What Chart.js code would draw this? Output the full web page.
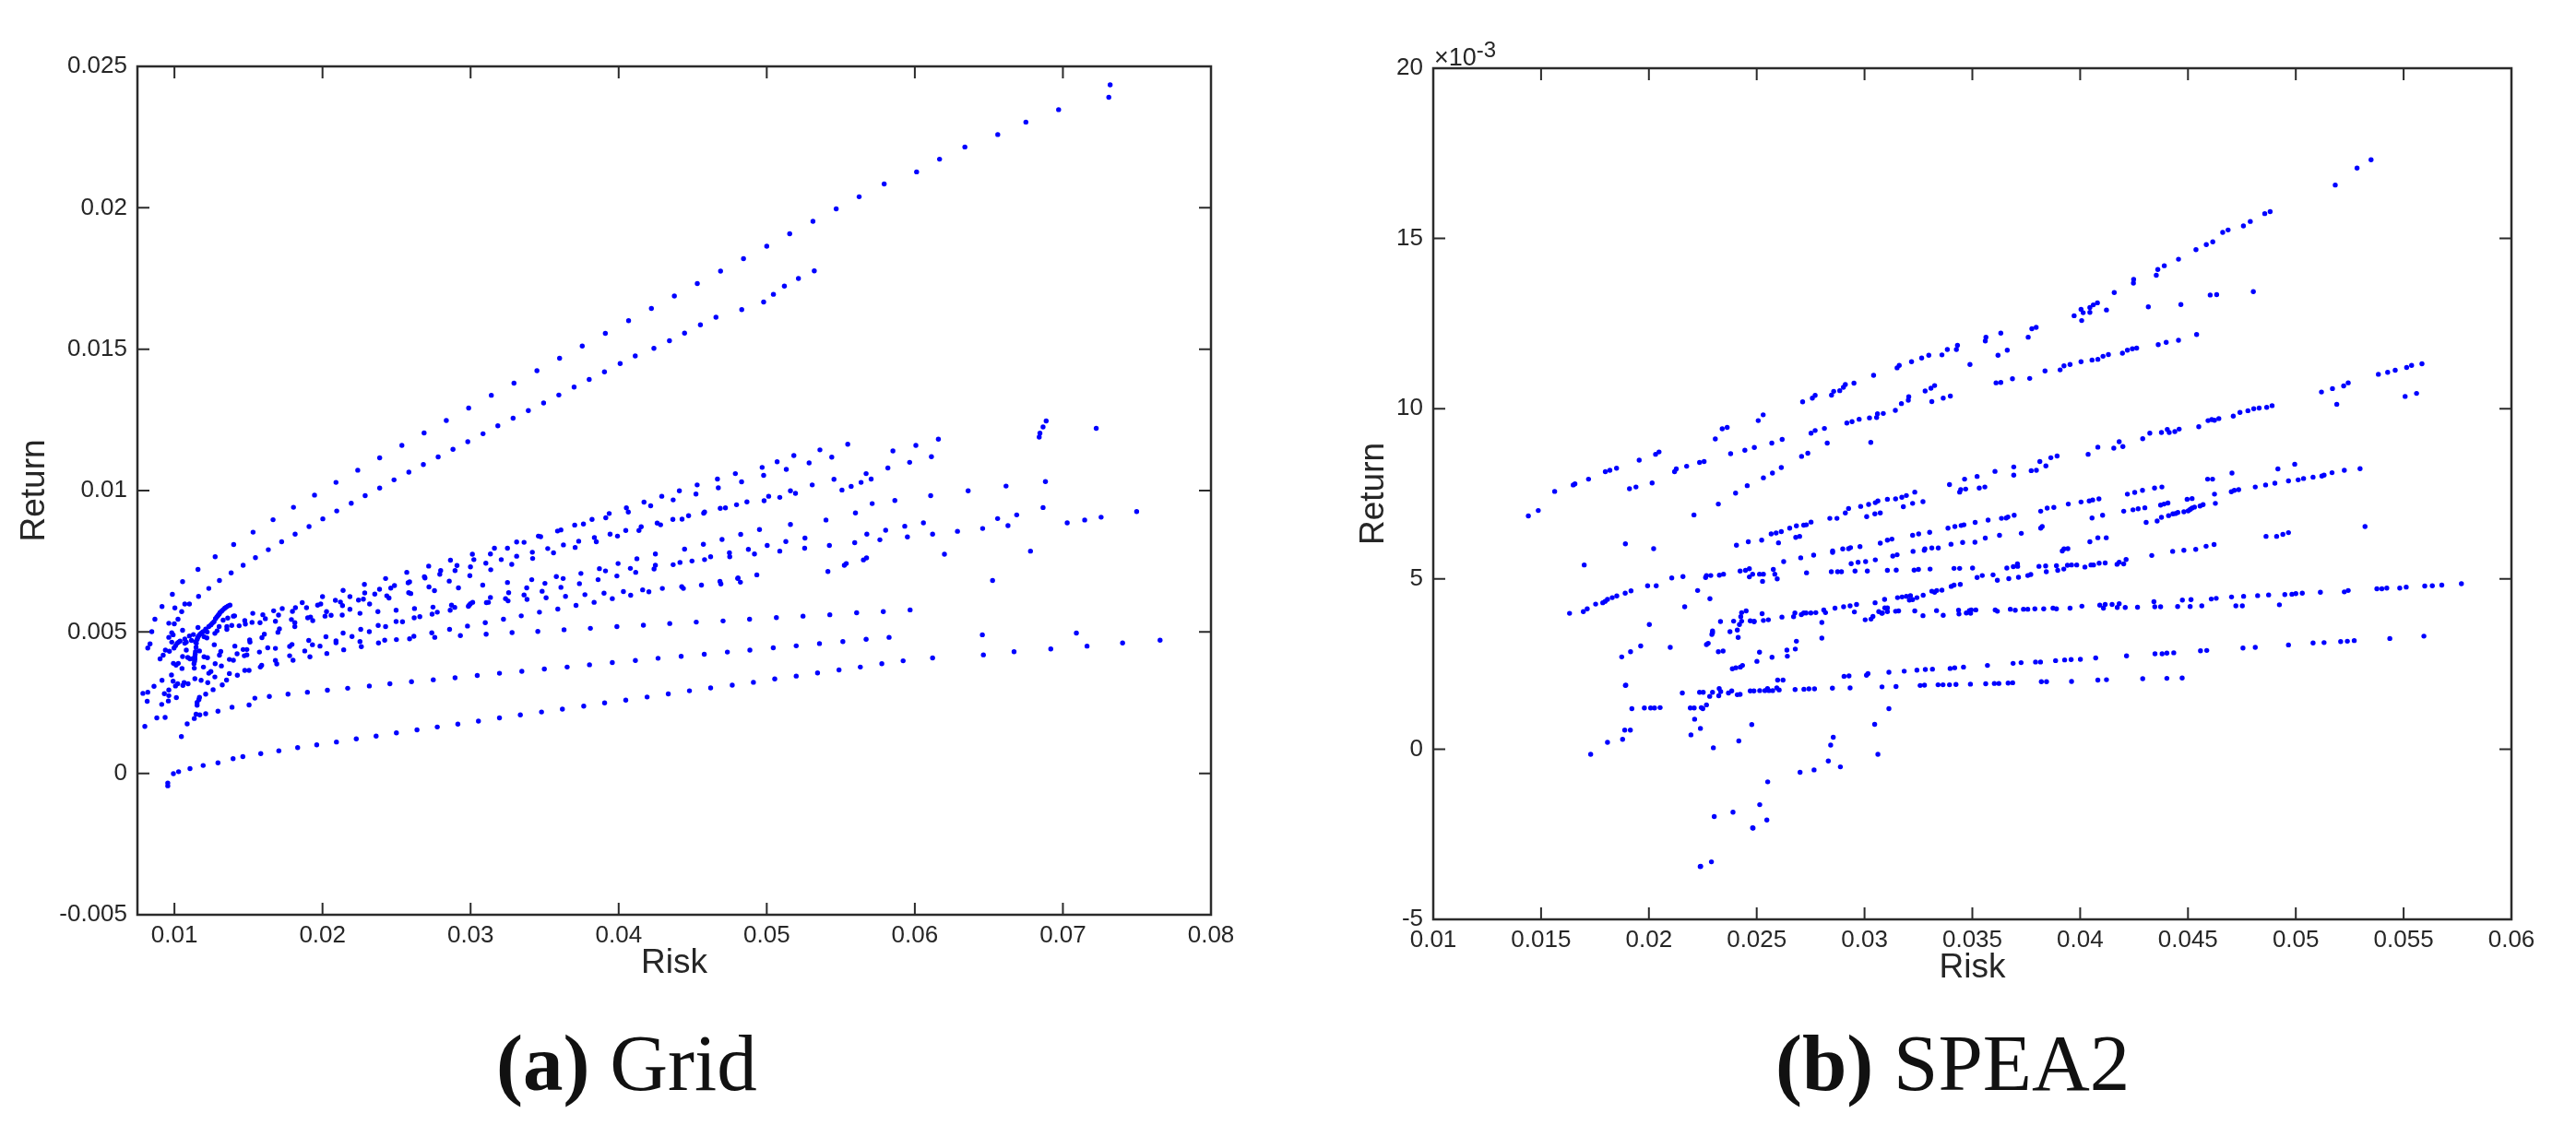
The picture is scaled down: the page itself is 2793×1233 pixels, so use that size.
<!DOCTYPE html>
<html>
<head>
<meta charset="utf-8">
<title>Grid and SPEA2</title>
<script src="https://cdn.jsdelivr.net/npm/chart.js@4"></script>
<style>
  html, body { margin: 0; background: #fff; }
  body { width: 2793px; height: 1233px; position: relative; overflow: hidden; }
  canvas { position: absolute; top: 0; }
  #gridChart { left: 0; }
  #speaChart { left: 1400px; }
  .caption { position: absolute; top: 1098px; font-family: "Liberation Serif", serif; font-size: 87px; line-height: 110px; color: #111; white-space: nowrap; }
  #exponent { position: absolute; left: 1555px; top: 45px; font-family: "Liberation Sans", sans-serif; font-size: 27px; line-height: 34px; color: #262626; white-space: nowrap; }
  #exponent sup { font-size: 24px; line-height: 0; vertical-align: 9px; }
</style>
</head>
<body>
<canvas id="gridChart" width="1396" height="1100"></canvas>
<canvas id="speaChart" width="1393" height="1100"></canvas>
<div id="exponent">×10<sup>-3</sup></div>
<div class="caption" style="left:538px"><b>(a)</b> Grid</div>
<div class="caption" style="left:1925px"><b>(b)</b> SPEA2</div>
<script>
// values are [risk, return], both stored in units of 1e-5

// --- (a) Grid ---
const gridLineA = [[820,443],[835,458],[847,501],[868,545],[916,590],[986,633],[1055,678],[1159,721],[1275,766],[1400,809],[1531,853],[1666,897],[1804,941],[1946,984],[2091,1029],[2238,1072],[2386,1116],[2536,1160],[2686,1204],[2836,1248],[2987,1292],[3140,1337],[3293,1380],[3448,1424],[3601,1468],[3754,1511],[3910,1556],[4067,1601],[4221,1644],[4376,1688],[4531,1732],[4688,1776],[4843,1820],[5000,1864],[5155,1908],[5312,1952],[5469,1996],[5624,2039],[5793,2084],[6012,2127],[6167,2172],[6338,2215],[6560,2259],[6750,2303],[6971,2347],[7310,2391],[7319,2435]];
const gridLineB = [[1163,626],[1232,654],[1304,682],[1383,709],[1464,736],[1547,763],[1634,791],[1724,819],[1815,846],[1909,873],[2002,900],[2096,928],[2194,955],[2288,982],[2386,1009],[2483,1038],[2583,1065],[2681,1092],[2781,1119],[2881,1146],[2981,1173],[3084,1201],[3184,1229],[3287,1256],[3390,1283],[3493,1310],[3596,1338],[3699,1366],[3801,1393],[3904,1420],[4010,1449],[4112,1476],[4238,1503],[4343,1530],[4445,1557],[4552,1586],[4657,1613],[4831,1640],[4979,1667],[5045,1694],[5119,1723],[5214,1750],[5321,1777]];
const gridLineC = [[1047,130],[1086,175],[1134,194],[1146,209],[1171,207],[1211,211],[1294,220],[1389,234],[1504,242],[1543,266],[1641,272],[1767,280],[1898,287],[2033,294],[2170,301],[2316,309],[2455,317],[2601,324],[2748,331],[2895,338],[3045,346],[3195,354],[3346,361],[3498,369],[3652,376],[3803,384],[3957,392],[4113,399],[4266,407],[4422,414],[4578,421],[4734,429],[4886,436],[5044,444],[5199,451],[5356,459],[5514,466],[5671,474],[5826,481]];
const gridLineD = [[955,-34],[955,-44],[993,-1],[1028,6],[1105,17],[1194,28],[1294,37],[1396,52],[1462,59],[1583,70],[1705,80],[1832,91],[1961,101],[2094,111],[2228,122],[2362,132],[2499,143],[2638,154],[2775,164],[2914,174],[3053,185],[3195,196],[3336,207],[3479,217],[3620,227],[3764,238],[3905,249],[4048,259],[4192,270],[4335,281],[4478,292],[4621,302],[4767,312],[4910,322],[5054,334],[5199,344],[5343,355],[5488,366],[5632,376],[5777,388],[5921,398],[6120,408],[6463,419],[6670,430],[6918,440],[7163,450],[7403,461],[7656,471],[6456,490],[7091,496]];
const gridLineE = [[5968,578],[5787,572],[5607,568],[5426,561],[5245,556],[5065,551],[4884,545],[6525,682]];
const gridStreaks = [[1375,595],[1350,588],[1329,579],[1308,569],[1294,558],[1277,547],[1267,536],[1246,525],[1232,519],[1211,510],[1184,497],[1163,486],[1153,473],[1146,446],[1142,430],[1138,413],[1136,397],[1132,388],[1362,592],[1340,584],[1319,574],[1302,563],[1286,553],[1256,531],[1194,501],[1173,492],[1157,480],[1148,460],[1140,421],[1138,405],[966,432],[997,443],[1007,451],[1018,460],[1028,464],[1038,468],[1070,460],[1080,464],[1070,475],[1101,486],[1128,491],[1115,470],[1142,465],[1360,549],[1329,542],[1302,519],[1288,504],[1273,495],[1354,519],[1354,509],[1387,523],[1437,522],[1221,500],[1169,433],[1126,406]];
const gridLeft = [[1055,506],[1024,545],[1049,572],[1101,599],[1070,599],[1003,585],[962,531],[999,529],[982,497],[991,490],[962,481],[982,464],[939,436],[924,418],[903,405],[1080,436],[1055,413],[1090,410],[1105,405],[1134,372],[1051,371],[1026,389],[993,389],[1011,383],[980,348],[916,329],[991,326],[1007,309],[1022,317],[962,295],[862,308],[820,287],[787,283],[932,282],[962,275],[816,255],[914,244],[959,256],[1013,268],[937,198],[881,196],[800,166],[1169,269],[1165,261],[1153,251],[1153,241]];
const gridLowerMid = [[1682,399],[1691,387],[1371,403],[1398,400],[1317,380],[1275,388],[1223,409],[1200,412],[1589,382],[1580,376],[1504,364],[1475,364],[1425,347],[1371,353],[1352,330],[1323,313],[1273,341],[1246,360],[1232,354],[1225,321],[1261,296],[1211,280],[1196,376],[1138,335],[1180,329],[1092,317],[1065,321],[1057,311]];
const gridMidLeft = [[2258,509],[2139,496],[2199,484],[2253,466],[2262,448],[2091,469],[2091,462],[2023,483],[2143,437],[2029,424],[1983,450],[1932,455],[1907,470],[1880,433],[1915,412],[1778,416],[1801,400],[1778,449],[1794,456],[1709,511],[1699,499],[1607,492],[1591,480],[1682,442],[1630,444],[1574,429],[1508,472],[1510,464],[1489,438],[1464,438],[1489,419],[1472,416],[1423,423],[1408,450],[1313,431],[1304,418],[1269,455],[1219,479],[1200,483],[1159,516]];
const gridUpperLeft = [[2283,668],[2285,638],[2139,647],[2185,625],[2087,612],[2121,606],[2135,593],[2000,625],[1988,599],[1967,595],[1863,604],[1892,586],[1817,586],[1797,573],[1728,583],[1670,575],[1703,560],[1614,547],[1597,561],[1529,566],[1406,557],[1398,556],[1475,540],[1479,528],[1524,534],[1578,533],[1682,538],[1790,544],[1813,533],[1813,519],[1900,550],[1919,553],[1934,540],[2017,556],[2027,572],[2058,559],[2133,560],[2185,580],[2253,566],[2276,616],[2243,613]];
const gridUpperBand = [[4667,1041],[4530,1020],[4673,1010],[4522,988],[4410,999],[4291,980],[4368,967],[4171,959],[4216,946],[4052,939],[4065,924],[3936,919],[3913,904],[3820,898],[3762,882],[3703,878],[3610,861],[3587,857],[3473,837],[3458,839],[3361,817],[3311,818],[3249,796],[3161,796],[3134,776],[3012,775],[3022,756],[2864,754],[2717,733],[2908,735],[2999,730],[2895,717],[2798,717],[2792,704],[2995,699],[3103,743],[3136,720],[3207,756],[3278,739],[3311,768],[3417,782],[3419,760],[3521,795],[3560,780],[3627,808],[3706,799],[3730,821],[3836,834],[3849,819],[3942,846],[3992,839],[4048,859],[4137,859],[4152,872],[4260,885],[4283,879],[4366,898],[4428,899],[4472,911],[4574,920],[4580,924],[4686,937],[4721,939],[4796,950],[4788,1060],[2569,711],[2688,695],[2692,691],[2578,674],[2588,677],[2426,689],[2486,664],[2461,655],[2385,651],[2353,634],[2434,628],[2449,620],[2318,599],[2582,639],[2596,636],[2719,659],[2756,646],[2856,680],[2918,656],[3082,666]];
const gridMidBand = [[4698,827],[4572,810],[4445,793],[4248,776],[4123,759],[3996,742],[3870,724],[3911,716],[4079,725],[4115,711],[4248,736],[4239,723],[4748,780],[4750,766],[4621,766],[4580,756],[4495,751],[4414,746],[4368,738],[3988,698],[3861,685],[3745,707],[3735,671],[3625,689],[3579,696],[3502,672],[3413,685],[3249,675],[3379,656],[3610,658],[3257,639],[3361,631],[3483,644],[3641,626],[3510,621],[3381,615],[3772,632],[3901,637],[4032,643],[4162,649],[4204,642],[4081,630],[3957,618],[3834,605],[3712,594],[3589,581],[3465,570],[3342,557],[3222,545],[3099,533],[2979,521],[2858,509],[2738,497],[2758,481],[2617,485],[2588,476],[2499,473],[2420,471],[2378,461],[2931,487],[3105,492],[3280,498],[3454,502],[3631,508],[3809,513],[3988,519],[4167,524],[4345,530],[4524,535],[4705,539],[4804,689],[4684,679],[4690,670],[4559,666],[4426,660],[4437,654],[4295,654],[3134,622],[3236,618],[3253,610],[3120,605],[3107,604],[3014,605],[2999,600],[2991,595],[2985,591],[2871,595],[2893,587],[2862,577],[2746,588],[2775,570],[2740,563],[2657,554],[2619,550],[2621,583],[2497,577],[2374,572],[2497,537],[2540,536],[2376,523],[2426,519],[2316,501]];
const gridRight = [[6887,1246],[6866,1225],[6845,1203],[6840,1189],[7225,1220],[6159,1182],[6007,1160],[5852,1140],[6112,1120],[5965,1100],[5547,1164],[5359,1144],[5183,1124],[5070,1102],[4969,1082],[5439,1118],[5286,1098],[5132,1075],[4979,1054],[4830,1031],[5818,1080],[5671,1060],[5705,1041],[5637,1029],[5570,1015],[5508,1002],[5454,1040],[5307,1020],[5160,999],[5194,990],[5013,980],[5088,976],[4982,964],[4866,960],[6882,1032],[6616,1016],[6360,999],[6107,982],[5865,965],[5712,954],[5599,921],[5400,896],[5160,880],[4951,862],[4824,845],[5258,832],[5129,820],[5003,806],[4876,792],[5256,796],[5088,786],[4917,776],[5423,806],[5594,816],[5676,846],[5803,860],[5764,826],[5932,874],[6058,886],[5950,836],[6120,846],[6288,856],[6458,866],[6559,901],[6629,876],[6688,914],[6866,940],[7029,886],[7147,896],[7258,906],[7498,926],[6200,775],[6781,786],[5674,762],[5653,755],[5537,742],[5524,736],[5413,714],[4933,702],[4822,676],[4806,691]];

const gridXTicks = [0.01, 0.02, 0.03, 0.04, 0.05, 0.06, 0.07, 0.08];
const gridYTicks = [-0.005, 0, 0.005, 0.01, 0.015, 0.02, 0.025];

// --- (b) SPEA2 ---
const speaFarLeft = [[1441,685],[1487,701],[1563,757],[1649,776],[1657,779],[1720,793],[1798,815],[1819,819]];
const speaBand1 = [[1850,825],[1955,849],[2031,866],[2047,873],[2119,815],[2127,823],[2175,831],[2235,842],[2256,845],[2308,911],[2340,941],[2363,945],[2507,965],[2530,982],[2713,1020],[2758,1031],[2771,1039],[2847,1040],[2857,1051],[2885,1053],[2902,1063],[2911,1071],[2951,1075],[3042,1098],[3151,1120],[3161,1127],[3218,1138],[3265,1149],[3298,1157],[3359,1158],[3384,1174],[3426,1174],[3431,1186],[3489,1130],[3560,1199],[3563,1210],[3632,1222],[3619,1157],[3662,1172],[3759,1210],[3776,1235],[3796,1239],[3972,1273],[4004,1292],[4014,1282],[4007,1259],[4045,1283],[4045,1297],[4061,1305],[4122,1290],[4316,1299],[4467,1306],[4080,1311],[4248,1380],[4247,1369],[4158,1341],[4353,1392],[4360,1409],[4390,1420],[4456,1439],[4537,1467],[4585,1482],[4615,1490],[4661,1518],[4686,1525],[4757,1537],[4789,1550],[4856,1573],[4881,1579],[5183,1657],[5284,1707],[5349,1731],[4803,1344],[4603,1334],[4633,1335]];
const speaBand2 = [[1910,765],[1940,770],[2015,782],[2379,868],[2445,878],[2489,886],[2570,899],[2618,910],[2752,928],[2771,936],[2814,942],[2827,899],[2918,958],[2942,962],[2975,969],[3023,973],[3056,974],[3060,985],[3029,901],[2708,860],[2737,869],[2322,720],[2402,752],[2456,774],[2531,797],[2573,811],[2614,827],[2209,688],[3087,986],[3143,995],[3171,1015],[3203,1025],[3205,1035],[3281,1052],[3308,1060],[3325,1068],[3312,1021],[3365,1031],[3398,1037],[3610,1076],[3632,1077],[3686,1088],[3766,1089],[3837,1111],[3907,1114],[3925,1126],[3953,1130],[4004,1138],[4055,1143],[4082,1145],[4106,1154],[4131,1159],[4196,1163],[4219,1172],[4242,1176],[4262,1178],[4362,1188],[4399,1195],[4456,1201],[4540,1218]];
const speaBand3 = [[2567,632],[2590,635],[2614,639],[2653,649],[2684,656],[2718,658],[2730,659],[2752,667],[2839,678],[2872,678],[2911,694],[2926,707],[2982,713],[3019,719],[3050,724],[3062,729],[3010,683],[3048,691],[3073,694],[4778,994],[4741,989],[4710,978],[4643,971],[4623,966],[4610,968],[4593,965],[4550,947],[4459,940],[4439,933],[4404,939],[4413,930],[4377,930],[4323,928],[4290,912],[4198,889],[4181,903],[4156,884],[4082,887],[4037,866],[3893,861],[3864,856],[3841,832],[3813,845],[3797,819],[3773,818],[3692,829],[3692,805],[3605,816],[3558,770],[3532,767],[3522,801],[3464,793],[3469,764],[3446,762],[3441,755],[3394,777],[3233,755],[3194,745],[3173,740],[3144,735],[3106,734],[3271,727],[3223,722],[3180,712],[5585,1132],[5537,1127],[5514,1121],[5461,1113],[5426,1107],[5383,1101],[5243,1076],[5222,1067],[5170,1059],[5119,1049],[5190,1013],[5560,1045],[5507,1036],[4890,1009],[4865,1004],[4830,1002],[4805,1000]];
const speaBand4 = [[1891,603],[2022,589],[1700,541],[2406,599],[2461,609],[2523,614],[2601,606],[2681,622],[2699,625],[2625,551],[2704,562],[2764,570],[2852,582],[2852,578],[2899,588],[2926,589],[2935,592],[2979,595],[3073,605],[1632,399],[1696,404],[1714,412],[1753,426],[1786,430],[1797,434],[1808,440],[1830,445],[1851,450],[1890,458],[1917,465],[1994,480],[2034,480],[2106,503],[2158,507],[2263,504],[2267,510],[2287,510],[2327,511],[2346,514],[2423,523],[2448,525],[2466,530],[2466,506],[2481,514],[2513,514],[2531,514],[2527,493],[2577,528],[2584,514],[2595,500],[2731,518],[2846,521],[2875,521],[2893,521],[2938,545],[2970,549],[3005,551],[3050,556],[2956,523],[3013,523],[2226,466],[2283,442],[2166,418],[2002,366],[1874,271],[1915,286],[1962,303],[2099,299]];
const speaBand5 = [[4704,811],[4614,793],[4591,793],[4623,749],[4735,762],[4715,760],[4701,756],[4627,722],[4570,718],[4556,714],[4530,711],[4519,708],[4510,704],[4481,697],[4501,700],[4453,695],[4442,692],[4430,691],[4410,686],[4377,681],[4357,670],[4306,666],[4407,723],[4389,720],[4373,717],[4519,736],[4496,734],[4300,709],[4269,706],[4245,703],[4202,699],[4379,770],[4345,767],[4289,760],[4253,754],[4219,749],[4087,735],[4058,732],[4042,729],[4004,726],[3945,720],[4104,687],[4055,679],[3878,710],[3847,708],[3817,699],[3694,687],[3665,682],[3657,679],[3635,678],[3573,673],[3513,666],[3461,659],[3448,657],[3419,654],[3387,649],[3302,637],[3251,632],[3223,628],[3127,617],[3106,614],[3727,634],[3626,628],[3560,620],[3512,608],[3455,607],[3401,602],[3342,591],[3312,591],[3280,588],[3277,584],[3225,581],[3151,571],[3131,567],[3824,654],[3817,649],[3943,589],[3925,588],[3917,582],[4121,621],[4082,621],[4045,609],[5298,824],[5225,819],[5168,812],[5131,805],[5121,802],[5080,799],[5036,795],[5011,791],[4966,788],[4903,781],[4860,776],[4812,770],[4995,837],[4917,823],[5321,654],[4966,636],[4940,631],[4911,625],[4862,625]];
const speaBand6 = [[4332,569],[4621,601],[4584,596],[4536,587],[4481,584],[4429,581],[4213,557],[4181,549],[4171,543],[4202,544],[4116,547],[4088,546],[4062,541],[4050,541],[4022,535],[3984,541],[3960,541],[3941,540],[3924,529],[3890,539],[3896,525],[3843,521],[3840,538],[3809,537],[3771,513],[3757,510],[3714,505],[3669,501],[3616,496],[3596,512],[3546,510],[3522,504],[3709,544],[3710,537],[3690,536],[3660,532],[3501,532],[3441,531],[3415,531],[3304,529],[3250,528],[3230,526],[3147,526],[3106,525],[3444,484],[3415,482],[3402,478],[3359,467],[3335,466],[3325,461],[3312,464],[3272,452],[3243,445],[3213,451],[3223,439],[3208,438],[3194,449],[3174,447],[3153,445],[3093,440]];
const speaBand7 = [[2332,375],[2393,376],[2430,401],[2451,406],[2426,389],[2430,376],[2420,366],[2410,350],[2376,345],[2414,328],[2470,377],[2488,376],[2488,374],[2525,398],[2531,378],[2554,380],[2617,388],[2671,389],[2677,400],[2707,395],[2718,400],[2729,400],[2751,400],[2774,401],[2811,409],[2819,401],[2863,414],[2903,418],[2933,421],[2963,425],[2953,403],[3003,380],[3030,382],[3039,390],[3049,430],[3066,404],[3080,399],[2802,372],[2802,326],[2295,347],[2295,342],[2292,337],[2267,307],[2275,311],[2322,286],[2344,288],[2387,236],[2403,239],[2424,241],[2434,246],[2501,258],[2513,285],[2571,270],[2640,291],[2642,273],[2679,294],[2684,317]];
const speaBand8 = [[4758,449],[4702,447],[4631,443],[4608,441],[4564,421],[4752,421],[4722,421],[4514,439],[4474,438],[4510,419],[4452,419],[4373,418],[4346,418],[4342,433],[4266,417],[4209,416],[4181,427],[4172,416],[4148,425],[4116,425],[4108,414],[4091,423],[4008,420],[3953,414],[3890,412],[3874,414],[3831,412],[3790,412],[3757,411],[3737,411],[3699,408],[3676,411],[3616,405],[3606,409],[3516,409],[3495,409],[3486,407],[3492,399],[3472,400],[3436,408],[3438,397],[3365,393],[3334,407],[3271,392],[3233,406],[3158,406],[3144,405],[3106,415],[3094,415],[3106,404],[3083,400],[5768,486],[5677,482],[5633,480],[5598,479],[5512,476],[5482,473],[5422,473],[5399,471],[5376,471],[5243,466],[5225,462],[5114,461],[5030,458],[5000,457],[4982,455],[4949,454],[4924,424],[4874,453],[4823,451]];
const speaBand9 = [[4755,297],[4587,290],[4558,289],[4434,283],[4402,282],[4380,280],[4347,280],[4215,274],[4072,268],[4001,264],[3958,263],[3928,262],[3886,260],[3816,256],[3793,256],[3726,254],[3689,252],[3570,246],[3459,241],[3418,239],[3397,237],[3315,235],[3282,234],[3243,232],[3184,229],[3113,226],[4473,209],[4402,208],[4290,207],[4122,204],[4082,203],[3960,199],[3844,198],[3820,198],[3687,195],[3666,194],[3623,193],[3602,193],[3562,192],[3491,191],[3424,190],[3394,189],[3364,189],[3341,189],[3278,188],[3258,187],[3146,184],[3081,183],[3113,119],[5594,332],[5436,325],[5271,319],[5239,317],[5208,316],[5131,313],[5080,312],[4966,306],[4812,299]];
const speaBand10 = [[1891,187],[1893,188],[1921,119],[1979,121],[2008,121],[2026,121],[2052,122],[2155,165],[2235,167],[2252,167],[2282,155],[2295,167],[2326,178],[2333,169],[2324,157],[2369,165],[2384,171],[2410,160],[2423,161],[2470,171],[2487,171],[2514,172],[2538,172],[2550,178],[2557,172],[2574,172],[2593,180],[2604,174],[2597,203],[2622,203],[2678,175],[2719,176],[2742,177],[2768,177],[2851,179],[2933,180],[2905,214],[2928,215],[3009,217],[3016,222],[2192,121],[2210,121],[2243,122],[2250,119],[2267,130],[2212,88],[2239,61],[2195,42]];
const speaBottom = [[1888,56],[1914,56],[1878,29],[1808,20],[1730,-15],[2299,4],[2417,24],[2477,72],[2855,35],[2843,12],[3047,73],[3062,-15],[2832,-35],[2701,-68],[2766,-61],[2888,-52],[2551,-96],[2514,-163],[2390,-185],[2303,-198],[2547,-208],[2481,-231],[2483,-232],[2240,-344],[2238,-345],[2290,-331]];

const speaXTicks = [0.01, 0.015, 0.02, 0.025, 0.03, 0.035, 0.04, 0.045, 0.05, 0.055, 0.06];
const speaYTicks = [-5, 0, 5, 10, 15, 20];

const UNIT = 1e-5;
const AXIS_COLOR = '#2b2b2b';
const TEXT_COLOR = '#262626';
const FONT = '"Liberation Sans", Arial, sans-serif';

const gridPoints = [gridLineA, gridLineB, gridLineC, gridLineD, gridLineE, gridStreaks, gridLeft, gridLowerMid,
    gridMidLeft, gridUpperLeft, gridUpperBand, gridMidBand, gridRight].flat()
    .map(p => ({ x: p[0] * UNIT, y: p[1] * UNIT }));

// return is plotted in units of 10^-3 here, the axis shows it that way
const speaPoints = [speaFarLeft, speaBand1, speaBand2, speaBand3, speaBand4, speaBand5, speaBand6, speaBand7,
    speaBand8, speaBand9, speaBand10, speaBottom].flat()
    .map(p => ({ x: p[0] * UNIT, y: p[1] / 100 }));

// box around the axes with inward ticks on all four sides, like matlab
const boxPlugin = {
    id: 'box',
    afterDraw(chart) {
        const { ctx, chartArea: a, scales: { x, y } } = chart;
        const len = 13;
        ctx.save();
        ctx.strokeStyle = AXIS_COLOR;
        ctx.lineWidth = 2;
        ctx.beginPath();
        x.ticks.forEach(t => {
            const px = x.getPixelForValue(t.value);
            ctx.moveTo(px, a.top); ctx.lineTo(px, a.top + len);
            ctx.moveTo(px, a.bottom); ctx.lineTo(px, a.bottom - len);
        });
        y.ticks.forEach(t => {
            const py = y.getPixelForValue(t.value);
            ctx.moveTo(a.left, py); ctx.lineTo(a.left + len, py);
            ctx.moveTo(a.right, py); ctx.lineTo(a.right - len, py);
        });
        ctx.stroke();
        ctx.lineWidth = 2.5;
        ctx.strokeRect(a.left, a.top, a.right - a.left, a.bottom - a.top);
        ctx.restore();
    }
};

function makeChart(id, points, o) {
    const tickFont = { family: FONT, size: 26 };
    const titleFont = { family: FONT, size: 37 };
    return new Chart(document.getElementById(id), {
        type: 'scatter',
        data: { datasets: [{ data: points, backgroundColor: '#0000ff', borderWidth: 0, pointRadius: 2.7 }] },
        plugins: [boxPlugin],
        options: {
            responsive: false,
            animation: false,
            devicePixelRatio: 1,
            layout: { padding: { top: o.top, right: o.right, left: 0, bottom: o.bottom } },
            plugins: { legend: { display: false }, tooltip: { enabled: false } },
            scales: {
                x: {
                    type: 'linear',
                    min: o.xMin, max: o.xMax,
                    afterBuildTicks: s => { s.ticks = o.xTicks.map(v => ({ value: v })); },
                    afterFit: s => { s.height = o.bottomH; },
                    grid: { display: false, drawTicks: false },
                    border: { display: false },
                    ticks: { font: tickFont, color: TEXT_COLOR, padding: 7, maxRotation: 0, autoSkip: false,
                        callback: v => String(Number(v.toFixed(4))) },
                    title: { display: true, text: 'Risk', font: titleFont, color: TEXT_COLOR, padding: { top: 0, bottom: 0 } }
                },
                y: {
                    type: 'linear',
                    min: o.yMin, max: o.yMax,
                    afterBuildTicks: s => { s.ticks = o.yTicks.map(v => ({ value: v })); },
                    afterFit: s => { s.width = o.leftW; },
                    grid: { display: false, drawTicks: false },
                    border: { display: false },
                    ticks: { font: tickFont, color: TEXT_COLOR, padding: 11, autoSkip: false,
                        callback: v => String(Number(v.toFixed(4))) },
                    title: { display: true, text: 'Return', font: titleFont, color: TEXT_COLOR, padding: { top: o.titlePad, bottom: 0 } }
                }
            }
        }
    });
}

makeChart('gridChart', gridPoints, {
    xMin: 0.0075, xMax: 0.08, yMin: -0.005, yMax: 0.025,
    xTicks: gridXTicks, yTicks: gridYTicks,
    top: 72, right: 83, bottom: 33, leftW: 149, bottomH: 75, titlePad: 16
});

makeChart('speaChart', speaPoints, {
    xMin: 0.01, xMax: 0.06, yMin: -5, yMax: 20,
    xTicks: speaXTicks, yTicks: speaYTicks,
    top: 74, right: 70, bottom: 28, leftW: 154, bottomH: 75, titlePad: 68
});
</script>
</body>
</html>
